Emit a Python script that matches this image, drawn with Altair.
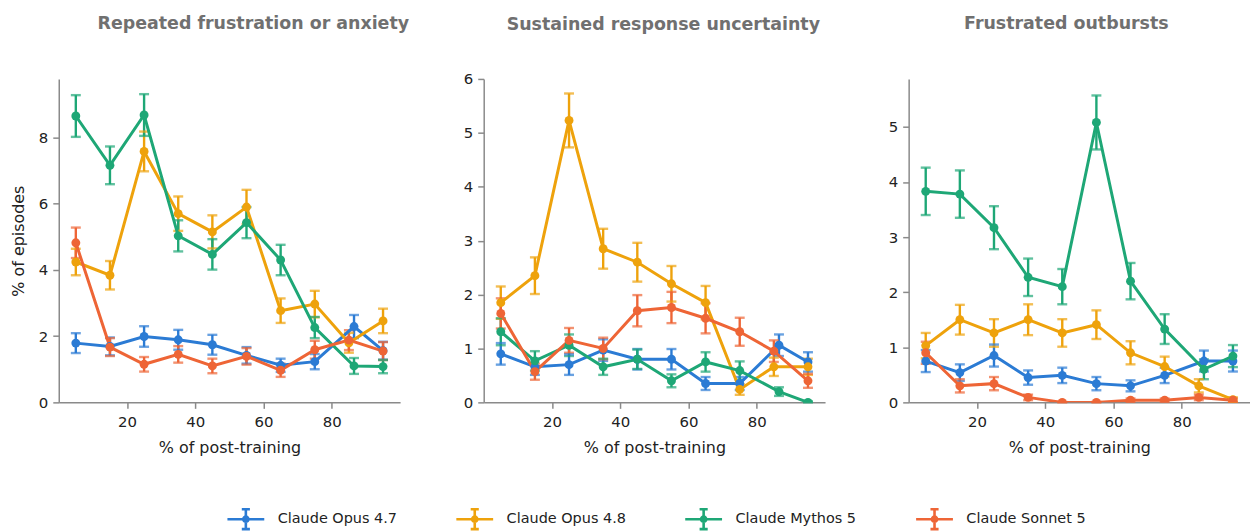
import altair as alt
import pandas as pd

MODELS = ["Claude Opus 4.7", "Claude Opus 4.8", "Claude Mythos 5", "Claude Sonnet 5"]
COLORS = ["#2b7bd4", "#eea20c", "#1ea776", "#ee6536"]

# x positions (% of post-training) of each checkpoint
X_STD = [5, 15, 25, 35, 45, 55, 65, 75, 85, 95]      # Opus 4.8, Sonnet 5
X_ALT = [5, 15, 25, 35, 45, 55, 65, 75, 86.5, 95]    # Opus 4.7, Mythos 5
X_BY_MODEL = [X_ALT, X_STD, X_ALT, X_STD]

TITLES = ["Repeated frustration or anxiety", "Sustained response uncertainty", "Frustrated outbursts"]
Y_MAX = [9.77, 6.0, 5.87]
Y_TICKS = [[0, 2, 4, 6, 8], [0, 1, 2, 3, 4, 5, 6], [0, 1, 2, 3, 4, 5]]
X_TICKS = [20, 40, 60, 80]

# Panel 1: Repeated frustration or anxiety
p1_opus47 = [1.79, 1.69, 1.99, 1.89, 1.74, 1.42, 1.12, 1.23, 2.29, 1.56]
p1_opus47_err = [0.30, 0.27, 0.31, 0.30, 0.30, 0.25, 0.20, 0.23, 0.35, 0.27]
p1_opus48 = [4.24, 3.84, 7.58, 5.70, 5.15, 5.90, 2.77, 2.97, 1.80, 2.46]
p1_opus48_err = [0.40, 0.43, 0.60, 0.52, 0.50, 0.52, 0.37, 0.40, 0.30, 0.37]
p1_mythos5 = [8.65, 7.16, 8.68, 5.03, 4.47, 5.43, 4.30, 2.26, 1.10, 1.08]
p1_mythos5_err = [0.63, 0.57, 0.63, 0.47, 0.46, 0.47, 0.46, 0.32, 0.24, 0.20]
p1_sonnet5 = [4.82, 1.67, 1.15, 1.45, 1.10, 1.39, 0.97, 1.59, 1.88, 1.55]
p1_sonnet5_err = [0.46, 0.27, 0.22, 0.25, 0.22, 0.25, 0.20, 0.27, 0.30, 0.27]

# Panel 2: Sustained response uncertainty
p2_opus47 = [0.90, 0.66, 0.70, 0.97, 0.80, 0.80, 0.35, 0.35, 1.06, 0.75]
p2_opus47_err = [0.20, 0.15, 0.19, 0.20, 0.19, 0.19, 0.12, 0.12, 0.20, 0.18]
p2_opus48 = [1.85, 2.35, 5.23, 2.85, 2.60, 2.20, 1.85, 0.24, 0.66, 0.66]
p2_opus48_err = [0.30, 0.34, 0.50, 0.37, 0.36, 0.33, 0.31, 0.10, 0.17, 0.15]
p2_mythos5 = [1.31, 0.77, 1.06, 0.66, 0.80, 0.40, 0.75, 0.59, 0.20, 0.00]
p2_mythos5_err = [0.25, 0.18, 0.20, 0.15, 0.18, 0.12, 0.18, 0.17, 0.08, 0.02]
p2_sonnet5 = [1.65, 0.57, 1.15, 1.00, 1.70, 1.76, 1.56, 1.31, 0.95, 0.40]
p2_sonnet5_err = [0.28, 0.15, 0.23, 0.20, 0.29, 0.29, 0.28, 0.26, 0.20, 0.13]

# Panel 3: Frustrated outbursts
p3_opus47 = [0.75, 0.54, 0.85, 0.45, 0.49, 0.34, 0.30, 0.49, 0.75, 0.75]
p3_opus47_err = [0.20, 0.15, 0.20, 0.13, 0.14, 0.12, 0.10, 0.14, 0.19, 0.19]
p3_opus48 = [1.03, 1.50, 1.26, 1.50, 1.26, 1.41, 0.90, 0.65, 0.30, 0.05]
p3_opus48_err = [0.23, 0.27, 0.25, 0.28, 0.25, 0.26, 0.21, 0.18, 0.12, 0.04]
p3_mythos5 = [3.83, 3.78, 3.17, 2.27, 2.10, 5.08, 2.20, 1.33, 0.60, 0.84]
p3_mythos5_err = [0.43, 0.43, 0.39, 0.34, 0.32, 0.49, 0.33, 0.27, 0.18, 0.20]
p3_sonnet5 = [0.90, 0.30, 0.34, 0.09, 0.00, 0.00, 0.04, 0.04, 0.09, 0.04]
p3_sonnet5_err = [0.20, 0.12, 0.12, 0.05, 0.01, 0.01, 0.03, 0.03, 0.05, 0.03]

PANEL_SERIES = [
    [(p1_opus47, p1_opus47_err), (p1_opus48, p1_opus48_err), (p1_mythos5, p1_mythos5_err), (p1_sonnet5, p1_sonnet5_err)],
    [(p2_opus47, p2_opus47_err), (p2_opus48, p2_opus48_err), (p2_mythos5, p2_mythos5_err), (p2_sonnet5, p2_sonnet5_err)],
    [(p3_opus47, p3_opus47_err), (p3_opus48, p3_opus48_err), (p3_mythos5, p3_mythos5_err), (p3_sonnet5, p3_sonnet5_err)],
]

FONT = "DejaVu Sans"
W, H = 343, 325
TITLE_DX = [24, 9, -13]
TITLE_OFFSET = [47, 39, 47]

LEGEND_PATH = ("M-1,0H1M0,-0.54V0.54M-0.22,-0.54H0.22M-0.22,0.54H0.22"
               "M0.14,0A0.14,0.14,0,1,1,-0.14,0A0.14,0.14,0,1,1,0.14,0Z")


def panel(i):
    rows = []
    for m, (vals, errs), xs in zip(MODELS, PANEL_SERIES[i], X_BY_MODEL):
        for x, v, e in zip(xs, vals, errs):
            rows.append({"model": m, "x": x, "y": v, "lo": max(0.0, v - e), "hi": v + e})
    df = pd.DataFrame(rows)
    base = alt.Chart(df)

    xax = alt.X("x:Q", scale=alt.Scale(domain=[0, 100], nice=False),
                axis=alt.Axis(values=X_TICKS, title="% of post-training", format="d"))
    yax_kwargs = dict(values=Y_TICKS[i], format="d")
    yax_kwargs["title"] = "% of episodes" if i == 0 else ""
    yscale = alt.Scale(domain=[0, Y_MAX[i]], nice=False)
    yenc = alt.Y("y:Q", scale=yscale, axis=alt.Axis(**yax_kwargs))
    cscale = alt.Scale(domain=MODELS, range=COLORS)
    c_leg = alt.Color("model:N", scale=cscale, legend=alt.Legend(
        title=None, orient="none", legendX=168, legendY=422, direction="horizontal",
        columns=4, symbolType=LEGEND_PATH, symbolSize=1369, symbolStrokeWidth=2.6,
        symbolOpacity=1,
        labelFontSize=14.5, labelFont=FONT, labelColor="#222222", labelOffset=12,
        columnPadding=54, labelLimit=300))

    rules = base.mark_rule(strokeWidth=2.4).encode(
        x=xax, y=alt.Y("lo:Q", scale=yscale, axis=alt.Axis(**yax_kwargs)), y2="hi:Q", color=c_leg)
    cap_lo = base.mark_tick(orient="horizontal", size=10, thickness=2.4).encode(
        x=xax, y=alt.Y("lo:Q", scale=yscale), color=c_leg)
    cap_hi = base.mark_tick(orient="horizontal", size=10, thickness=2.4).encode(
        x=xax, y=alt.Y("hi:Q", scale=yscale), color=c_leg)
    line = base.mark_line(strokeWidth=3, clip=True).encode(x=xax, y=yenc, color=c_leg)
    pts = base.mark_circle(size=80, opacity=1, clip=True).encode(x=xax, y=yenc, color=c_leg)

    return alt.layer(rules, cap_lo, cap_hi, line, pts).properties(
        width=W, height=H,
        title=alt.TitleParams(TITLES[i], fontSize=17.5, fontWeight="bold", color="#707070",
                              font=FONT, anchor="middle", dx=TITLE_DX[i], offset=TITLE_OFFSET[i]),
    )


chart = alt.hconcat(panel(0), panel(1), panel(2), spacing=84, bounds="flush").properties(
    padding={"left": 2, "top": 5, "right": 0, "bottom": 0}
).configure_view(stroke=None).configure_axis(
    grid=False, domainColor="#8a8a8a", tickColor="#8a8a8a", domainWidth=1.5, tickWidth=1.5,
    tickSize=6, labelFontSize=15, labelColor="#222222", labelFont=FONT, labelPadding=6,
    titleFont=FONT, titleFontSize=16, titleFontWeight="normal", titleColor="#222222",
).configure_axisX(titlePadding=10, labelPadding=6).configure_axisY(titlePadding=12, labelPadding=5)

chart.save("out.html", embed_options={"renderer": "svg", "actions": False})
